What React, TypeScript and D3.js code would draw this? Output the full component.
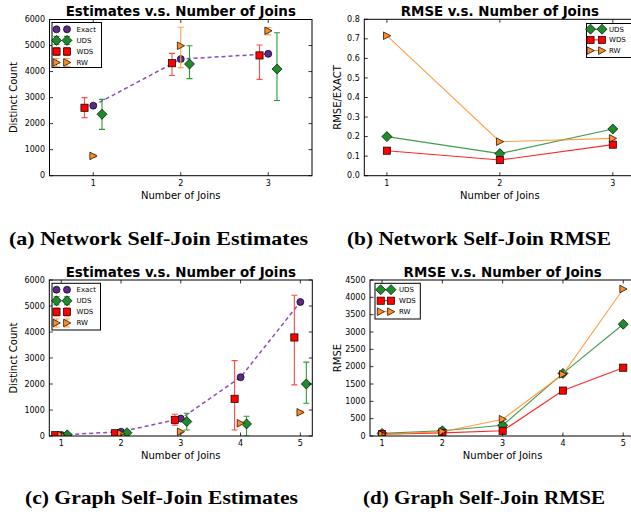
import React from 'react';
import * as d3 from 'd3';

// ---------- data ----------
const joinsNet = [1, 2, 3];
const exactNet = [2690, 4480, 4680];
const udsNet = [2360, 4290, 4095];
const udsNetLo = [1780, 3730, 2890];
const udsNetHi = [2930, 4990, 5490];
const wdsNet = [2610, 4320, 4620];
const wdsNetLo = [2230, 3850, 3700];
const wdsNetHi = [3000, 4700, 5020];
const rwNet = [760, 4990, 5565];
const rwNetLo = [700, 4150, 5410];
const rwNetHi = [820, 5700, 5690];

const rmseUdsNet = [0.2, 0.113, 0.239];
const rmseWdsNet = [0.128, 0.08, 0.159];
const rmseRwNet = [0.716, 0.174, 0.191];

const joinsGraph = [1, 2, 3, 4, 5];
const exactGraph = [40, 165, 670, 2260, 5155];
const udsGraph = [45, 125, 555, 465, 2000];
const udsGraphLo = [20, 95, 230, 0, 1260];
const udsGraphHi = [70, 155, 875, 760, 2840];
const wdsGraph = [30, 105, 620, 1430, 3790];
const wdsGraphLo = [10, 80, 420, 230, 1965];
const wdsGraphHi = [50, 135, 835, 2900, 5415];
const rwGraph = [35, 95, 165, 490, 910];
const rwGraphLo = [20, 75, 130, 440, 860];
const rwGraphHi = [50, 115, 200, 540, 960];

const rmseUdsGraph = [75, 150, 310, 1805, 3225];
const rmseWdsGraph = [50, 90, 150, 1310, 1970];
const rmseRwGraph = [45, 125, 485, 1780, 4240];

const estTicks = [0, 1000, 2000, 3000, 4000, 5000, 6000];
const ratioTicks = [0, 0.1, 0.2, 0.3, 0.4, 0.5, 0.6, 0.7, 0.8];
const rmseTicks = [0, 500, 1000, 1500, 2000, 2500, 3000, 3500, 4000, 4500];

const captions = [
  '(a) Network Self-Join Estimates',
  '(b) Network Self-Join RMSE',
  '(c) Graph Self-Join Estimates',
  '(d) Graph Self-Join RMSE',
];

// ---------- styles ----------
const FONT = "'DejaVu Sans', sans-serif";
const C = {
  exact: '#5e2a88',
  exactLine: '#8e4cbc',
  uds: '#1f8c2b',
  udsErr: '#2a9a36',
  wds: '#ff0000',
  wdsErr: '#ff4a4a',
  rw: '#ff8c26',
  rwErr: '#ffa050',
};

type MarkerKind = 'circle' | 'diamond' | 'square' | 'tri';

function Marker({ kind, x, y, fill }: { kind: MarkerKind; x: number; y: number; fill: string }) {
  const sw = 0.7;
  if (kind === 'circle') return <circle cx={x} cy={y} r={3.5} fill={fill} stroke="#000" strokeWidth={sw} />;
  if (kind === 'square') return <rect x={x - 3.6} y={y - 3.6} width={7.2} height={7.2} fill={fill} stroke="#000" strokeWidth={sw} />;
  if (kind === 'diamond')
    return <path d={`M${x},${y - 5}L${x + 5},${y}L${x},${y + 5}L${x - 5},${y}Z`} fill={fill} stroke="#000" strokeWidth={sw} />;
  return <path d={`M${x - 3.4},${y - 3.8}L${x + 3.8},${y}L${x - 3.4},${y + 3.8}Z`} fill={fill} stroke="#000" strokeWidth={sw} />;
}

function ErrBar({ x, y1, y2, color }: { x: number; y1: number; y2: number; color: string }) {
  return (
    <g stroke={color} strokeWidth={1.1}>
      <line x1={x} x2={x} y1={y1} y2={y2} />
      <line x1={x - 3} x2={x + 3} y1={y1} y2={y1} />
      <line x1={x - 3} x2={x + 3} y1={y2} y2={y2} />
    </g>
  );
}

type PanelProps = {
  id: string;
  left: number; right: number; top: number; bottom: number;
  xDomain: [number, number]; xTicks: number[];
  yDomain: [number, number]; yTicks: number[]; yFmt: (v: number) => string;
  title: string; titleY: number;
  yLabel: string; yLabelX: number;
  draw: (x: d3.ScaleLinear<number, number>, y: d3.ScaleLinear<number, number>) => React.ReactNode;
};

function Panel(p: PanelProps) {
  const x = d3.scaleLinear().domain(p.xDomain).range([p.left, p.right]);
  const y = d3.scaleLinear().domain(p.yDomain).range([p.bottom, p.top]);
  const tl = 3.5;
  const cx = (p.left + p.right) / 2;
  const cy = (p.top + p.bottom) / 2;
  return (
    <g>
      <defs>
        <clipPath id={p.id}>
          <rect x={p.left} y={p.top} width={p.right - p.left} height={p.bottom - p.top} />
        </clipPath>
      </defs>
      <g clipPath={`url(#${p.id})`}>{p.draw(x, y)}</g>
      <rect x={p.left} y={p.top} width={p.right - p.left} height={p.bottom - p.top} fill="none" stroke="#000" strokeWidth={1} />
      <g stroke="#000" strokeWidth={0.8}>
        {p.xTicks.map((t) => (
          <g key={'x' + t}>
            <line x1={x(t)} x2={x(t)} y1={p.bottom} y2={p.bottom - tl} />
            <line x1={x(t)} x2={x(t)} y1={p.top} y2={p.top + tl} />
          </g>
        ))}
        {p.yTicks.map((t) => (
          <g key={'y' + t}>
            <line x1={p.left} x2={p.left + tl} y1={y(t)} y2={y(t)} />
            <line x1={p.right} x2={p.right - tl} y1={y(t)} y2={y(t)} />
          </g>
        ))}
      </g>
      <g fontFamily={FONT} fontSize={8} fill="#000">
        {p.xTicks.map((t) => (
          <text key={'xl' + t} x={x(t)} y={p.bottom + 10} textAnchor="middle">{String(t)}</text>
        ))}
        {p.yTicks.map((t) => (
          <text key={'yl' + t} x={p.left - 4.5} y={y(t)} dy="0.33em" textAnchor="end">{p.yFmt(t)}</text>
        ))}
      </g>
      <text x={cx} y={p.titleY} textAnchor="middle" fontFamily={FONT} fontWeight="bold" fontSize={13.4}>{p.title}</text>
      <text x={cx} y={p.bottom + 23} textAnchor="middle" fontFamily={FONT} fontSize={10}>Number of Joins</text>
      <text transform={`translate(${p.yLabelX},${cy}) rotate(-90)`} textAnchor="middle" fontFamily={FONT} fontSize={10}>{p.yLabel}</text>
    </g>
  );
}

type LegendEntry = { label: string; kind: MarkerKind; fill: string; line?: string; err?: string };

function Legend({ bx, by, bw, bh, rows, m1, m2, tx, entries }: {
  bx: number; by: number; bw: number; bh: number; rows: number[]; m1: number; m2: number; tx: number; entries: LegendEntry[];
}) {
  return (
    <g>
      <rect x={bx} y={by} width={bw} height={bh} fill="#fff" stroke="#000" strokeWidth={1} />
      {entries.map((e, i) => (
        <g key={e.label}>
          {e.line && <line x1={m1} x2={m2} y1={rows[i]} y2={rows[i]} stroke={e.line} strokeWidth={1} />}
          {e.err && [m1, m2].map((m) => <ErrBar key={m} x={m} y1={rows[i] - 4} y2={rows[i] + 4} color={e.err!} />)}
          <Marker kind={e.kind} x={m1} y={rows[i]} fill={e.fill} />
          <Marker kind={e.kind} x={m2} y={rows[i]} fill={e.fill} />
          <text x={tx} y={rows[i]} dy="0.35em" fontFamily={FONT} fontSize={7}>{e.label}</text>
        </g>
      ))}
    </g>
  );
}

function estimateDraw(
  joins: number[], exact: number[],
  uds: number[], udsLo: number[], udsHi: number[],
  wds: number[], wdsLo: number[], wdsHi: number[],
  rw: number[], rwLo: number[], rwHi: number[],
) {
  return (x: d3.ScaleLinear<number, number>, y: d3.ScaleLinear<number, number>) => {
    const line = d3.line<number>().x((_, i) => x(joins[i])).y((d) => y(d));
    return (
      <g>
        <path d={line(exact) || ''} fill="none" stroke={C.exactLine} strokeWidth={1.5} strokeDasharray="4,3" />
        {exact.map((v, i) => <Marker key={'e' + i} kind="circle" x={x(joins[i])} y={y(v)} fill={C.exact} />)}
        {uds.map((v, i) => (
          <g key={'u' + i}>
            <ErrBar x={x(joins[i] + 0.1)} y1={y(udsHi[i])} y2={y(udsLo[i])} color={C.udsErr} />
            <Marker kind="diamond" x={x(joins[i] + 0.1)} y={y(v)} fill={C.uds} />
          </g>
        ))}
        {wds.map((v, i) => (
          <g key={'w' + i}>
            <ErrBar x={x(joins[i] - 0.1)} y1={y(wdsHi[i])} y2={y(wdsLo[i])} color={C.wdsErr} />
            <Marker kind="square" x={x(joins[i] - 0.1)} y={y(v)} fill={C.wds} />
          </g>
        ))}
        {rw.map((v, i) => (
          <g key={'r' + i}>
            <ErrBar x={x(joins[i])} y1={y(rwHi[i])} y2={y(rwLo[i])} color={C.rwErr} />
            <Marker kind="tri" x={x(joins[i])} y={y(v)} fill={C.rw} />
          </g>
        ))}
      </g>
    );
  };
}

function rmseDraw(joins: number[], uds: number[], wds: number[], rw: number[]) {
  return (x: d3.ScaleLinear<number, number>, y: d3.ScaleLinear<number, number>) => {
    const line = d3.line<number>().x((_, i) => x(joins[i])).y((d) => y(d));
    const series: [number[], string, MarkerKind][] = [
      [uds, C.uds, 'diamond'],
      [wds, C.wds, 'square'],
      [rw, C.rw, 'tri'],
    ];
    return (
      <g>
        {series.map(([vals, col, kind], s) => (
          <g key={s}>
            <path d={line(vals) || ''} fill="none" stroke={col} strokeWidth={1.1} strokeOpacity={0.85} />
            {vals.map((v, i) => <Marker key={i} kind={kind} x={x(joins[i])} y={y(v)} fill={col} />)}
          </g>
        ))}
      </g>
    );
  };
}

const estLegend: LegendEntry[] = [
  { label: 'Exact', kind: 'circle', fill: C.exact },
  { label: 'UDS', kind: 'diamond', fill: C.uds, err: C.udsErr },
  { label: 'WDS', kind: 'square', fill: C.wds, err: C.wdsErr },
  { label: 'RW', kind: 'tri', fill: C.rw, err: C.rwErr },
];
const rmseLegend: LegendEntry[] = [
  { label: 'UDS', kind: 'diamond', fill: C.uds, line: C.uds },
  { label: 'WDS', kind: 'square', fill: C.wds, line: C.wds },
  { label: 'RW', kind: 'tri', fill: C.rw, line: C.rw },
];

const fmtInt = (v: number) => d3.format('d')(v);
const fmt1 = (v: number) => d3.format('.1f')(v);

function Caption({ x, y, w, text }: { x: number; y: number; w: number; text: string }) {
  return (
    <text x={x} y={y} textLength={w} lengthAdjust="spacingAndGlyphs" fontFamily="'Liberation Serif', serif" fontWeight="bold" fontSize={19}>
      {text}
    </text>
  );
}

export default function App() {
  return (
    <svg width={631} height={515} style={{ position: 'absolute', left: 0, top: 0, background: '#fff' }}>
      <Panel
        id="clipA" left={49.5} right={312} top={19.5} bottom={175.7}
        xDomain={[0.5, 3.5]} xTicks={joinsNet} yDomain={[0, 6000]} yTicks={estTicks} yFmt={fmtInt}
        title="Estimates v.s. Number of Joins" titleY={16} yLabel="Distinct Count" yLabelX={17}
        draw={estimateDraw(joinsNet, exactNet, udsNet, udsNetLo, udsNetHi, wdsNet, wdsNetLo, wdsNetHi, rwNet, rwNetLo, rwNetHi)}
      />
      <Legend bx={52} by={22.5} bw={49.5} bh={45} rows={[29.3, 40.4, 51.5, 62.5]} m1={56.5} m2={67} tx={76.5} entries={estLegend} />

      <Panel
        id="clipB" left={364.3} right={635.4} top={19.3} bottom={175.7}
        xDomain={[0.8, 3.2]} xTicks={joinsNet} yDomain={[0, 0.8]} yTicks={ratioTicks} yFmt={fmt1}
        title="RMSE v.s. Number of Joins" titleY={16} yLabel="RMSE/EXACT" yLabelX={340.5}
        draw={rmseDraw(joinsNet, rmseUdsNet, rmseWdsNet, rmseRwNet)}
      />
      <Legend bx={586.5} by={23.5} bw={50} bh={34} rows={[29.2, 39.9, 50.6]} m1={590.5} m2={602} tx={609} entries={rmseLegend} />

      <Panel
        id="clipC" left={49.3} right={312.3} top={280} bottom={436}
        xDomain={[0.8, 5.2]} xTicks={joinsGraph} yDomain={[0, 6000]} yTicks={estTicks} yFmt={fmtInt}
        title="Estimates v.s. Number of Joins" titleY={276.7} yLabel="Distinct Count" yLabelX={17}
        draw={estimateDraw(joinsGraph, exactGraph, udsGraph, udsGraphLo, udsGraphHi, wdsGraph, wdsGraphLo, wdsGraphHi, rwGraph, rwGraphLo, rwGraphHi)}
      />
      <Legend bx={52} by={283.3} bw={48.5} bh={46.7} rows={[289.7, 300.8, 311.9, 323]} m1={56.5} m2={67} tx={76.5} entries={estLegend} />

      <Panel
        id="clipD" left={370} right={635.3} top={280} bottom={436}
        xDomain={[0.8, 5.2]} xTicks={joinsGraph} yDomain={[0, 4500]} yTicks={rmseTicks} yFmt={fmtInt}
        title="RMSE v.s. Number of Joins" titleY={276.7} yLabel="RMSE" yLabelX={340.5}
        draw={rmseDraw(joinsGraph, rmseUdsGraph, rmseWdsGraph, rmseRwGraph)}
      />
      <Legend bx={375} by={283.3} bw={45.3} bh={35.7} rows={[289.7, 300.7, 311.7]} m1={380.7} m2={391} tx={399} entries={rmseLegend} />

      <Caption x={9} y={245} w={299} text={captions[0]} />
      <Caption x={347} y={245} w={264} text={captions[1]} />
      <Caption x={25} y={504} w={273} text={captions[2]} />
      <Caption x={363} y={504} w={242} text={captions[3]} />
    </svg>
  );
}
